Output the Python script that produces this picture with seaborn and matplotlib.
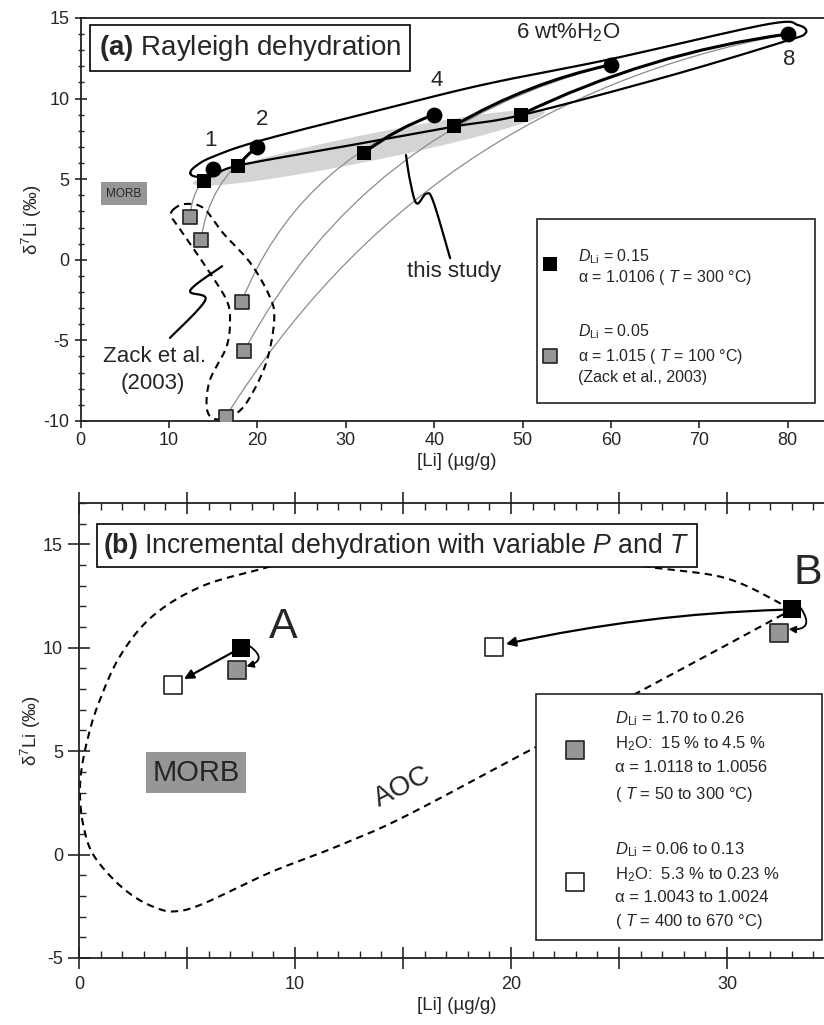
import numpy as np
import matplotlib.pyplot as plt
import seaborn as sns
from matplotlib.patches import Rectangle
from matplotlib.ticker import MultipleLocator, FuncFormatter
from matplotlib.transforms import offset_copy

# ==========================
# DATA - panel (a) Rayleigh dehydration
# ==========================
h2o_labels = ["1", "2", "4", "6 wt%H$_2$O", "8"]
h2o_label_li = [14.65, 20.5, 40.3, 55.1, 80.2]
h2o_label_d7li = [7.4, 8.7, 11.1, 14.1, 12.4]

init_li = [15.0, 20.0, 40.0, 60.0, 80.0]
init_d7li = [5.6, 7.0, 9.0, 12.1, 14.0]

study_li = [14.0, 17.8, 32.0, 42.2, 49.8]
study_d7li = [4.9, 5.8, 6.6, 8.3, 9.0]

zack_li = [12.4, 13.6, 18.2, 18.5, 16.4]
zack_d7li = [2.65, 1.2, -2.6, -5.65, -9.75]

# outline around the initial compositions
env_li = [12.4, 13.1, 15.0, 17.8, 30.0, 42.2, 49.9, 66.3, 79.4, 82.0, 81.2, 77.6, 60.0, 46.3, 36.1, 20.6, 15.0, 13.0]
env_d7li = [5.37, 5.15, 5.2, 5.84, 7.05, 8.26, 8.98, 11.36, 13.5, 14.05, 14.55, 14.6, 12.45, 10.95, 9.6, 7.43, 6.4, 5.8]

# dashed outline around Zack et al. (2003)
zack_env_li = [10.45, 11.8, 13.9, 16.1, 19.2, 21.4, 21.9, 21.1, 19.4, 17.7, 15.4, 14.3, 14.6, 16.5, 16.9, 16.5, 14.6, 13.1, 11.3, 10.3]
zack_env_d7li = [3.1, 3.46, 3.2, 1.66, -0.2, -2.3, -3.7, -6.2, -8.3, -9.5, -9.9, -9.3, -7.5, -5.4, -3.7, -2.5, -0.8, 0.42, 1.85, 2.65]

# pointer squiggles
study_ptr_li = [36.8, 37.25, 38.0, 39.1, 39.9, 41.8]
study_ptr_d7li = [6.5, 4.95, 3.5, 4.1, 3.6, 0.1]
zack_ptr_li = [16.0, 12.4, 14.1, 10.1]
zack_ptr_d7li = [-0.4, -1.9, -2.5, -4.85]

# ==========================
# DATA - panel (b) incremental dehydration
# ==========================
case_labels = ["A", "B"]
start_li = [7.5, 33.0]
start_d7li = [10.0, 11.85]
low_t_li = [7.3, 32.4]
low_t_d7li = [8.9, 10.7]
high_t_li = [4.35, 19.2]
high_t_d7li = [8.2, 10.05]

aoc_li = [33.0, 30.0, 26.3, 24.0, 17.0, 10.5, 8.84, 5.75, 3.43, 1.9, 0.9, 0.4, 0.1, 0.05, 0.2, 0.6, 1.5, 2.5, 3.5, 4.4, 5.7, 8.84, 11.94, 15.0, 20.7, 28.1, 32.4, 33.0]
aoc_d7li = [11.85, 13.35, 13.93, 14.6, 15.5, 14.6, 13.93, 13.0, 11.55, 9.6, 7.3, 5.6, 4.0, 2.7, 1.4, 0.1, -1.1, -2.0, -2.55, -2.75, -2.4, -0.87, 0.39, 1.8, 4.95, 9.08, 11.5, 11.85]

GRAY = "#969696"
LIGHT = "#d4d4d4"


def smooth(xs, ys, closed=False, n=24):
    # catmull-rom through the read points, just to draw the outlines
    pts = np.column_stack([xs, ys])
    if closed:
        P = np.vstack([pts[-1], pts, pts[0], pts[1]])
    else:
        P = np.vstack([pts[0], pts, pts[-1]])
    out = []
    t = np.linspace(0, 1, n, endpoint=False)[:, None]
    for i in range(1, len(P) - 2):
        p0, p1, p2, p3 = P[i - 1], P[i], P[i + 1], P[i + 2]
        seg = 0.5 * (2 * p1 + (-p0 + p2) * t + (2 * p0 - 5 * p1 + 4 * p2 - p3) * t ** 2
                     + (-p0 + 3 * p1 - 3 * p2 + p3) * t ** 3)
        out.append(seg)
    out.append(P[-2][None])
    out = np.vstack(out)
    return out[:, 0], out[:, 1]


# ==========================
# STYLE
# ==========================
sns.set_theme(style="ticks")
plt.rcParams["font.family"] = ["Liberation Sans", "DejaVu Sans"]
plt.rcParams["mathtext.fontset"] = "custom"
plt.rcParams["mathtext.rm"] = "Liberation Sans"
plt.rcParams["mathtext.it"] = "Liberation Sans:italic"
plt.rcParams["mathtext.bf"] = "Liberation Sans:bold"
plt.rcParams["axes.unicode_minus"] = False
plt.rcParams["axes.edgecolor"] = "#222222"
plt.rcParams["axes.linewidth"] = 1.3

fig = plt.figure(figsize=(8.24, 10.25), dpi=100)
ax1 = fig.add_axes([0.0979, 0.5893, 0.9118, 0.3932])
ax2 = fig.add_axes([0.0959, 0.0654, 0.9175, 0.4439])

# ==========================
# PANEL (a)
# ==========================
ax = ax1
ax.set_xlim(0, 85)
ax.set_ylim(-10, 15)

# this study band
t = np.linspace(0, 2 * np.pi, 200)
bx = 32.6 + 19.9 * np.cos(t)
by = 6.95 + 2.2 * np.cos(t) + 0.85 * np.sin(t)
ax.fill(bx, by, color=LIGHT, lw=0, zorder=1)

# thin grey Rayleigh curves (D = 0.05)
for x0, y0, x1, y1 in zip(init_li, init_d7li, zack_li, zack_d7li):
    ax.annotate("", xy=(x1, y1), xytext=(x0, y0),
                arrowprops=dict(arrowstyle="-", color="#8c8c8c", lw=0.9,
                                shrinkA=0, shrinkB=0,
                                connectionstyle="arc3,rad=0.22"), zorder=2)

# thick black Rayleigh curves (D = 0.15)
for x0, y0, x1, y1 in zip(init_li, init_d7li, study_li, study_d7li):
    ax.annotate("", xy=(x1, y1), xytext=(x0, y0),
                arrowprops=dict(arrowstyle="-", color="black", lw=2.2,
                                shrinkA=0, shrinkB=0,
                                connectionstyle="arc3,rad=0.08"), zorder=3)

ex, ey = smooth(env_li, env_d7li, closed=True)
ax.plot(ex, ey, color="black", lw=1.6, zorder=3)

zx, zy = smooth(zack_env_li, zack_env_d7li, closed=True)
ax.plot(zx, zy, color="black", lw=1.5, dashes=(3.5, 2.5), zorder=3)

px, py = smooth(study_ptr_li, study_ptr_d7li)
ax.plot(px, py, color="black", lw=1.6, zorder=3)
px, py = smooth(zack_ptr_li, zack_ptr_d7li)
ax.plot(px, py, color="black", lw=1.6, zorder=3)

sns.scatterplot(x=zack_li, y=zack_d7li, marker="s", s=105, color=GRAY,
                edgecolor="#222222", linewidth=1.2, ax=ax, zorder=5)
sns.scatterplot(x=study_li, y=study_d7li, marker="s", s=90, color="black",
                edgecolor="black", linewidth=0, ax=ax, zorder=5)
sns.scatterplot(x=init_li, y=init_d7li, marker="o", s=130, color="black",
                edgecolor="black", linewidth=0, ax=ax, zorder=5)

for lab, x, y in zip(h2o_labels, h2o_label_li, h2o_label_d7li):
    ax.text(x, y, lab, fontsize=16, ha="center", va="center", zorder=6)

ax.text(4.9, 4.1, "MORB", fontsize=8.5, ha="center", va="center", zorder=6,
        bbox=dict(boxstyle="square,pad=0.45", fc=GRAY, ec="none"))
ax.text(42.2, -0.75, "this study", fontsize=16, ha="center", va="center")
ax.text(8.4, -6.0, "Zack et al.", fontsize=16, ha="center", va="center")
ax.text(8.2, -7.65, "(2003)", fontsize=16, ha="center", va="center")

ax.text(0.024, 0.925, "$\\bf{(a)}$ Rayleigh dehydration", transform=ax.transAxes,
        fontsize=20, ha="left", va="center", zorder=8,
        bbox=dict(boxstyle="square,pad=0.3", fc="white", ec="black", lw=1.2))

# legend box
ax.add_patch(Rectangle((51.6, -8.88), 31.5, 11.41, fc="white", ec="#222222", lw=1.2, zorder=6))
sns.scatterplot(x=[53.1], y=[-0.26], marker="s", s=90, color="black",
                edgecolor="black", linewidth=0, ax=ax, zorder=7)
sns.scatterplot(x=[53.1], y=[-5.97], marker="s", s=105, color=GRAY,
                edgecolor="#222222", linewidth=1.2, ax=ax, zorder=7)
leg_a = [
    (0.17, "$D_{\\mathrm{Li}}$ = 0.15"),
    (-1.07, "α = 1.0106 ( $T$ = 300 °C)"),
    (-4.48, "$D_{\\mathrm{Li}}$ = 0.05"),
    (-6.03, "α = 1.015 ( $T$ = 100 °C)"),
    (-7.33, "(Zack et al., 2003)"),
]
for y, s in leg_a:
    ax.text(56.3, y, s, fontsize=11.5, ha="left", va="center", zorder=7)

ax.xaxis.set_major_locator(MultipleLocator(10))
ax.yaxis.set_major_locator(MultipleLocator(5))
ax.yaxis.set_minor_locator(MultipleLocator(1))
ax.tick_params(axis="x", which="major", direction="out", length=5, width=1.2, labelsize=13, pad=3)
ax.tick_params(axis="y", which="major", direction="inout", length=9, width=1.2, labelsize=13)
ax.tick_params(axis="y", which="minor", direction="inout", length=5, width=1.0)
ax.set_xlabel("[Li] (µg/g)", fontsize=13.5, labelpad=3)
ax.set_ylabel("δ$^7$Li (‰)", fontsize=13.5, labelpad=0)

# ==========================
# PANEL (b)
# ==========================
ax = ax2
ax.set_xlim(0, 35)
ax.set_ylim(-5, 17)

ax_x, ax_y = smooth(aoc_li, aoc_d7li)
ax.plot(ax_x, ax_y, color="black", lw=1.5, dashes=(3.5, 2.5), zorder=2)

ax.text(15.0, 3.25, "AOC", fontsize=20, rotation=27, ha="center", va="center")
ax.text(5.42, 3.96, "MORB", fontsize=21, ha="center", va="center",
        bbox=dict(boxstyle="square,pad=0.22", fc=GRAY, ec="none"))

for x0, y0, x1, y1, xg, yg in zip(start_li, start_d7li, high_t_li, high_t_d7li, low_t_li, low_t_d7li):
    rad = 0.05 if x0 > 20 else 0.0
    ax.annotate("", xy=(x1, y1), xytext=(x0, y0),
                arrowprops=dict(arrowstyle="-|>", color="black", lw=1.6,
                                mutation_scale=14, shrinkA=7, shrinkB=9,
                                connectionstyle=f"arc3,rad={rad}"), zorder=4)
    # small curl from the black square round to the grey one
    ax.annotate("", xy=(xg, yg), xytext=(x0, y0),
                xycoords=offset_copy(ax.transData, fig=fig, x=7, y=3, units="points"),
                textcoords=offset_copy(ax.transData, fig=fig, x=6.5, y=1, units="points"),
                arrowprops=dict(arrowstyle="-|>", color="black", lw=1.3,
                                mutation_scale=10, shrinkA=0, shrinkB=0,
                                connectionstyle="arc3,rad=-1.0"), zorder=4)

sns.scatterplot(x=high_t_li, y=high_t_d7li, marker="s", s=150, color="white",
                edgecolor="#222222", linewidth=1.2, ax=ax, zorder=5)
sns.scatterplot(x=low_t_li, y=low_t_d7li, marker="s", s=150, color=GRAY,
                edgecolor="#222222", linewidth=1.2, ax=ax, zorder=5)
sns.scatterplot(x=start_li, y=start_d7li, marker="s", s=150, color="black",
                edgecolor="black", linewidth=0, ax=ax, zorder=5)

ax.text(9.45, 11.0, case_labels[0], fontsize=31, ha="center", va="center")
ax.text(33.75, 13.6, case_labels[1], fontsize=31, ha="center", va="center", clip_on=False)

ax.text(0.032, 0.906, "$\\bf{(b)}$ Incremental dehydration with variable $P$ and $T$",
        transform=ax.transAxes, fontsize=19.2, ha="left", va="center", zorder=8,
        bbox=dict(boxstyle="square,pad=0.25", fc="white", ec="black", lw=1.2))

# legend box
ax.add_patch(Rectangle((21.16, -4.13), 13.24, 11.9, fc="white", ec="#222222", lw=1.2, zorder=6))
sns.scatterplot(x=[22.96], y=[5.06], marker="s", s=150, color=GRAY,
                edgecolor="#222222", linewidth=1.2, ax=ax, zorder=7)
sns.scatterplot(x=[22.96], y=[-1.31], marker="s", s=150, color="white",
                edgecolor="#222222", linewidth=1.2, ax=ax, zorder=7)
leg_b = [
    (6.55, "$D_{\\mathrm{Li}}$ = 1.70 to 0.26"),
    (5.34, "H$_2$O:  15 % to 4.5 %"),
    (4.22, "α = 1.0118 to 1.0056"),
    (2.91, "( $T$ = 50 to 300 °C)"),
    (0.24, "$D_{\\mathrm{Li}}$ = 0.06 to 0.13"),
    (-0.97, "H$_2$O:  5.3 % to 0.23 %"),
    (-2.09, "α = 1.0043 to 1.0024"),
    (-3.25, "( $T$ = 400 to 670 °C)"),
]
for y, s in leg_b:
    ax.text(24.8, y, s, fontsize=12, ha="left", va="center", zorder=7)

ax.xaxis.set_major_locator(MultipleLocator(5))
ax.xaxis.set_minor_locator(MultipleLocator(1))
ax.xaxis.set_major_formatter(FuncFormatter(lambda v, p: f"{v:.0f}" if v % 10 == 0 else ""))
ax.yaxis.set_major_locator(MultipleLocator(5))
ax.yaxis.set_minor_locator(MultipleLocator(1))
ax.tick_params(which="major", direction="inout", length=16, width=1.2, labelsize=13,
               top=True, right=True)
ax.tick_params(which="minor", direction="in", length=5, width=1.0, top=True, right=True)
ax.tick_params(axis="x", pad=5)
ax.set_xlabel("[Li] (µg/g)", fontsize=13.5, labelpad=3)
ax.set_ylabel("δ$^7$Li (‰)", fontsize=13.5, labelpad=0)

fig.savefig("out.png", dpi=100)
